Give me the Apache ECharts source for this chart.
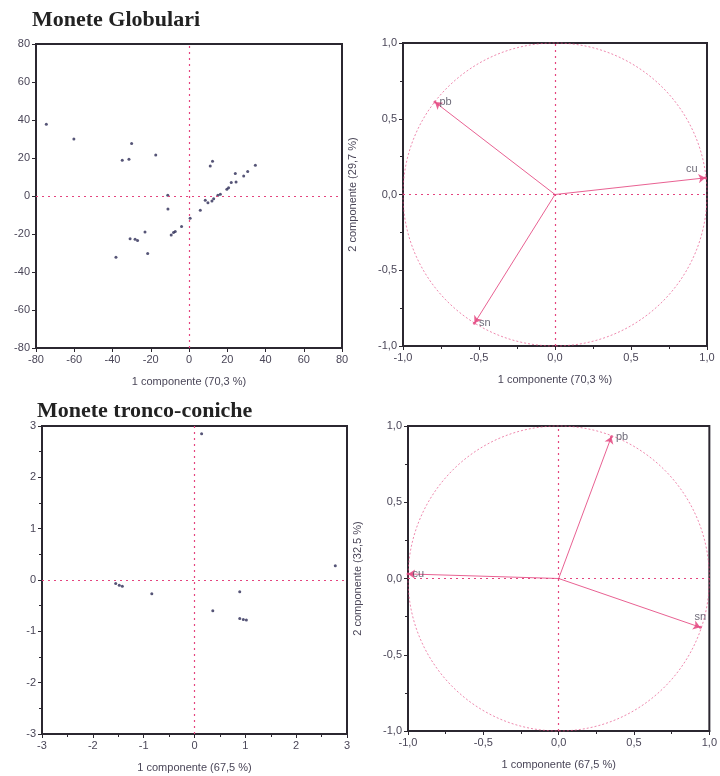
<!DOCTYPE html>
<html>
<head>
<meta charset="utf-8">
<script src="https://cdn.jsdelivr.net/npm/echarts@6/dist/echarts.min.js"></script>
<style>
  html, body { margin: 0; padding: 0; background: #fff; }
  #main { width: 720px; height: 776px; }
</style>
</head>
<body>
<div id="main"></div>
<script>
// Monete Globulari - object scores
var globX = [-74.6, -60.2, -30.0, -34.9, -31.4, -17.4, 12.3, 11.1, 34.7, 30.7, 28.6, 24.2,
    24.6, 22.1, 20.7, 19.8, 16.4, 15.1, 12.9, 12.0, 9.9, 8.5, 5.9, 0.6, -3.9, -7.2, -8.1,
    -9.3, -11.1, -11.0, -23.0, -30.8, -28.2, -26.9, -21.6, -38.2];
var globY = [37.8, 30.0, 27.6, 18.8, 19.4, 21.6, 18.3, 15.8, 16.2, 12.9, 10.5, 11.8,
    7.4, 7.1, 4.4, 3.5, 0.9, 0.4, -1.4, -2.6, -3.5, -2.3, -7.5, -11.7, -16.1, -18.7, -19.2,
    -20.5, 0.4, -6.8, -19.0, -22.5, -22.8, -23.4, -30.2, -32.2];

// Monete tronco-coniche - object scores
var troncoX = [0.14, 2.77, -1.55, -1.48, -1.42, -0.84, 0.89, 0.36, 0.89, 0.96, 1.02];
var troncoY = [2.85, 0.28, -0.07, -0.10, -0.12, -0.27, -0.23, -0.60, -0.75, -0.77, -0.78];

// variable loadings
var varNames = ['pb', 'cu', 'sn'];
var globVarX = [-0.79, 0.99, -0.53];
var globVarY = [0.61, 0.11, -0.85];
var troncoVarX = [0.35, -1.0, 0.94];
var troncoVarY = [0.93, 0.03, -0.32];

var globVar1 = '1 componente (70,3 %)';
var globVar2 = '2 componente (29,7 %)';
var troncoVar1 = '1 componente (67,5 %)';
var troncoVar2 = '2 componente (32,5 %)';

var dom = document.getElementById('main');
var myChart = echarts.init(dom, null, { renderer: 'canvas' });

var pink = '#e4457f';
var frameColor = '#2b2730';
var textColor = '#4a4658';
var fontFamily = 'Liberation Sans, Arial, sans-serif';

function commaFmt(v) {
    return v.toFixed(1).replace('.', ',');
}

function makeAxis(idx, min, max, interval, fmt, minor, name, gap) {
    return {
        gridIndex: idx,
        min: min,
        max: max,
        interval: interval,
        name: name || '',
        nameLocation: 'middle',
        nameGap: gap || 30,
        nameTextStyle: { color: textColor, fontSize: 11, fontFamily: fontFamily },
        axisLine: { onZero: false, lineStyle: { color: frameColor, width: 2 } },
        axisTick: { inside: false, length: 4, lineStyle: { color: frameColor } },
        minorTick: { show: minor, splitNumber: 2, length: 3, lineStyle: { color: frameColor } },
        axisLabel: { color: textColor, fontSize: 11, fontFamily: fontFamily, margin: 6, formatter: fmt },
        splitLine: { show: false }
    };
}

function zip(xs, ys) {
    return xs.map(function (x, i) { return [x, ys[i]]; });
}

var zeroLines = {
    silent: true,
    symbol: 'none',
    label: { show: false },
    lineStyle: { color: pink, type: [2, 4], width: 1.2 },
    data: [{ xAxis: 0 }, { yAxis: 0 }]
};

function circleSeries(idx) {
    return {
        type: 'custom',
        xAxisIndex: idx,
        yAxisIndex: idx,
        silent: true,
        data: [[0, 0, 1]],
        renderItem: function (params, api) {
            var c = api.coord([api.value(0), api.value(1)]);
            var r = api.size([api.value(2), api.value(2)]);
            return {
                type: 'ellipse',
                shape: { cx: c[0], cy: c[1], rx: r[0], ry: r[1] },
                style: { fill: null, stroke: pink, lineWidth: 0.8, lineDash: [2, 2], opacity: 0.8 }
            };
        },
        markLine: zeroLines
    };
}

function arrowSeries(idx, xs, ys) {
    return {
        type: 'lines',
        coordinateSystem: 'cartesian2d',
        xAxisIndex: idx,
        yAxisIndex: idx,
        silent: true,
        symbol: ['none', 'arrow'],
        symbolSize: 7,
        lineStyle: { color: pink, width: 1, opacity: 0.85 },
        data: xs.map(function (x, i) {
            return { coords: [[0, 0], [x, ys[i]]] };
        })
    };
}

function labelSeries(idx, xs, ys, positions) {
    return {
        type: 'scatter',
        xAxisIndex: idx,
        yAxisIndex: idx,
        silent: true,
        symbolSize: 3,
        itemStyle: { color: pink },
        data: xs.map(function (x, i) {
            return {
                value: [x, ys[i]],
                label: {
                    show: true,
                    position: positions[i],
                    distance: 3,
                    formatter: varNames[i],
                    color: textColor,
                    fontSize: 11,
                    fontFamily: fontFamily
                }
            };
        })
    };
}

function pointSeries(idx, xs, ys) {
    return {
        type: 'scatter',
        xAxisIndex: idx,
        yAxisIndex: idx,
        symbol: 'circle',
        symbolSize: 3,
        itemStyle: { color: '#2c2a55' },
        data: zip(xs, ys),
        markLine: zeroLines
    };
}

var intFmt = function (v) { return String(v); };

var titleStyle = { fontFamily: 'Liberation Serif, serif', fontWeight: 'bold', fontSize: 22, color: '#222' };

var option = {
    backgroundColor: '#ffffff',
    animation: false,
    title: [
        { text: 'Monete Globulari', left: 32, top: 9, padding: 0, textStyle: titleStyle },
        { text: 'Monete tronco-coniche', left: 37, top: 400, padding: 0, textStyle: titleStyle }
    ],
    grid: [
        { left: 36, top: 44, width: 306, height: 304, show: true, borderColor: frameColor, borderWidth: 2 },
        { left: 403, top: 43, width: 304, height: 303, show: true, borderColor: frameColor, borderWidth: 2 },
        { left: 42, top: 426, width: 305, height: 308, show: true, borderColor: frameColor, borderWidth: 2 },
        { left: 408, top: 426, width: 305, height: 305, show: true, borderColor: frameColor, borderWidth: 2 }
    ],
    xAxis: [
        makeAxis(0, -80, 80, 20, intFmt, false, globVar1, 28),
        makeAxis(1, -1, 1, 0.5, commaFmt, true, globVar1, 28),
        makeAxis(2, -3, 3, 1, intFmt, true, troncoVar1, 28),
        makeAxis(3, -1, 1, 0.5, commaFmt, true, troncoVar1, 28)
    ],
    yAxis: [
        makeAxis(0, -80, 80, 20, intFmt, false),
        makeAxis(1, -1, 1, 0.5, commaFmt, true, globVar2, 45),
        makeAxis(2, -3, 3, 1, intFmt, true),
        makeAxis(3, -1, 1, 0.5, commaFmt, true, troncoVar2, 45)
    ],
    series: [
        pointSeries(0, globX, globY),
        circleSeries(1),
        arrowSeries(1, globVarX, globVarY),
        labelSeries(1, globVarX, globVarY, ['right', [-18, -13], 'right']),
        pointSeries(2, troncoX, troncoY),
        circleSeries(3),
        arrowSeries(3, troncoVarX, troncoVarY),
        labelSeries(3, troncoVarX, troncoVarY, ['right', 'right', 'top'])
    ]
};

if (option && typeof option === 'object') {
    myChart.setOption(option);
}

window.addEventListener('resize', myChart.resize);
</script>
</body>
</html>
